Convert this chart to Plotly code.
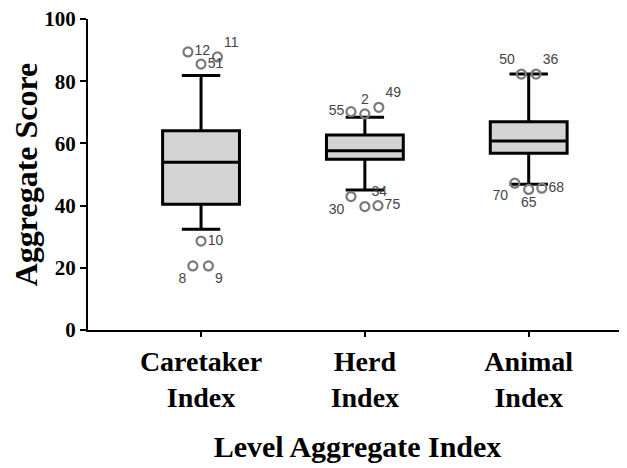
import plotly.graph_objects as go

categories = ["Caretaker<br>Index", "Herd<br>Index", "Animal<br>Index"]
q1 = [40.4, 54.9, 56.8]
median = [53.9, 57.6, 60.8]
q3 = [64.1, 62.7, 67.0]
lower_fence = [32.4, 45.0, 46.9]
upper_fence = [81.8, 68.4, 82.3]

# outliers: category index, jitter offset, value, label, label position
out_cat = [0, 0, 0, 0, 0, 0, 1, 1, 1, 1, 1, 1, 2, 2, 2, 2, 2]
out_jitter = [-0.08, 0.10, 0.0, 0.0, -0.05, 0.045,
              -0.085, 0.0, 0.085, -0.085, 0.0, 0.08,
              -0.045, 0.045, -0.085, 0.0, 0.08]
out_val = [89.4, 87.8, 85.5, 28.6, 20.6, 20.6,
           70.2, 69.5, 71.6, 42.9, 39.7, 40.0,
           82.3, 82.3, 47.2, 45.2, 45.6]
out_label = ["12", "11", "51", "10", "8", "9",
             "55", "2", "49", "30", "34", "75",
             "50", "36", "70", "65", "68"]
out_textpos = ["middle right", "top right", "middle right", "middle right", "bottom left", "bottom right",
               "middle left", "top center", "top right", "bottom left", "top right", "middle right",
               "top left", "top right", "bottom left", "bottom center", "middle right"]

serif = "Liberation Serif"

fig = go.Figure()
fig.add_trace(go.Box(
    x=[0, 1, 2], q1=q1, median=median, q3=q3,
    lowerfence=lower_fence, upperfence=upper_fence,
    fillcolor="#d4d4d4", line=dict(color="black", width=3),
    whiskerwidth=0.5, boxpoints=False, hoverinfo="skip", showlegend=False,
))
fig.add_trace(go.Scatter(
    x=[c + j for c, j in zip(out_cat, out_jitter)], y=out_val,
    mode="markers+text", text=out_label, textposition=out_textpos,
    textfont=dict(family="Liberation Sans", size=14, color="#444444"),
    marker=dict(symbol="circle-open", size=9, color="#7a7a7a", line=dict(width=2.2, color="#7a7a7a")),
    hoverinfo="skip", showlegend=False, cliponaxis=False,
))

# page body has an 8px margin, so the figure is shrunk by that amount
fig.update_layout(
    width=619, height=460,
    margin=dict(l=80, r=0, t=11, b=138),
    paper_bgcolor="white", plot_bgcolor="white",
    boxgap=0.33,
    xaxis=dict(
        range=[-0.69, 2.6], tickmode="array", tickvals=[0, 1, 2], ticktext=categories,
        showline=True, linecolor="black", linewidth=2, ticks="outside", ticklen=5, tickwidth=2,
        tickcolor="black", showgrid=False, zeroline=False,
        tickfont=dict(family=serif, size=28, color="black", weight="bold"),
        title=dict(text="Level Aggregate Index", font=dict(family=serif, size=30, color="black", weight="bold"), standoff=24),
    ),
    yaxis=dict(
        range=[0, 100], tickvals=[0, 20, 40, 60, 80, 100], ticklabeloverflow="allow",
        showline=True, linecolor="black", linewidth=2, ticks="outside", ticklen=6, tickwidth=2,
        tickcolor="black", showgrid=False, zeroline=False,
        tickfont=dict(family=serif, size=21, color="black", weight="bold"),
        title=dict(text="Aggregate Score", font=dict(family=serif, size=32, color="black", weight="bold"), standoff=6),
    ),
)

fig.write_html("out.html")
